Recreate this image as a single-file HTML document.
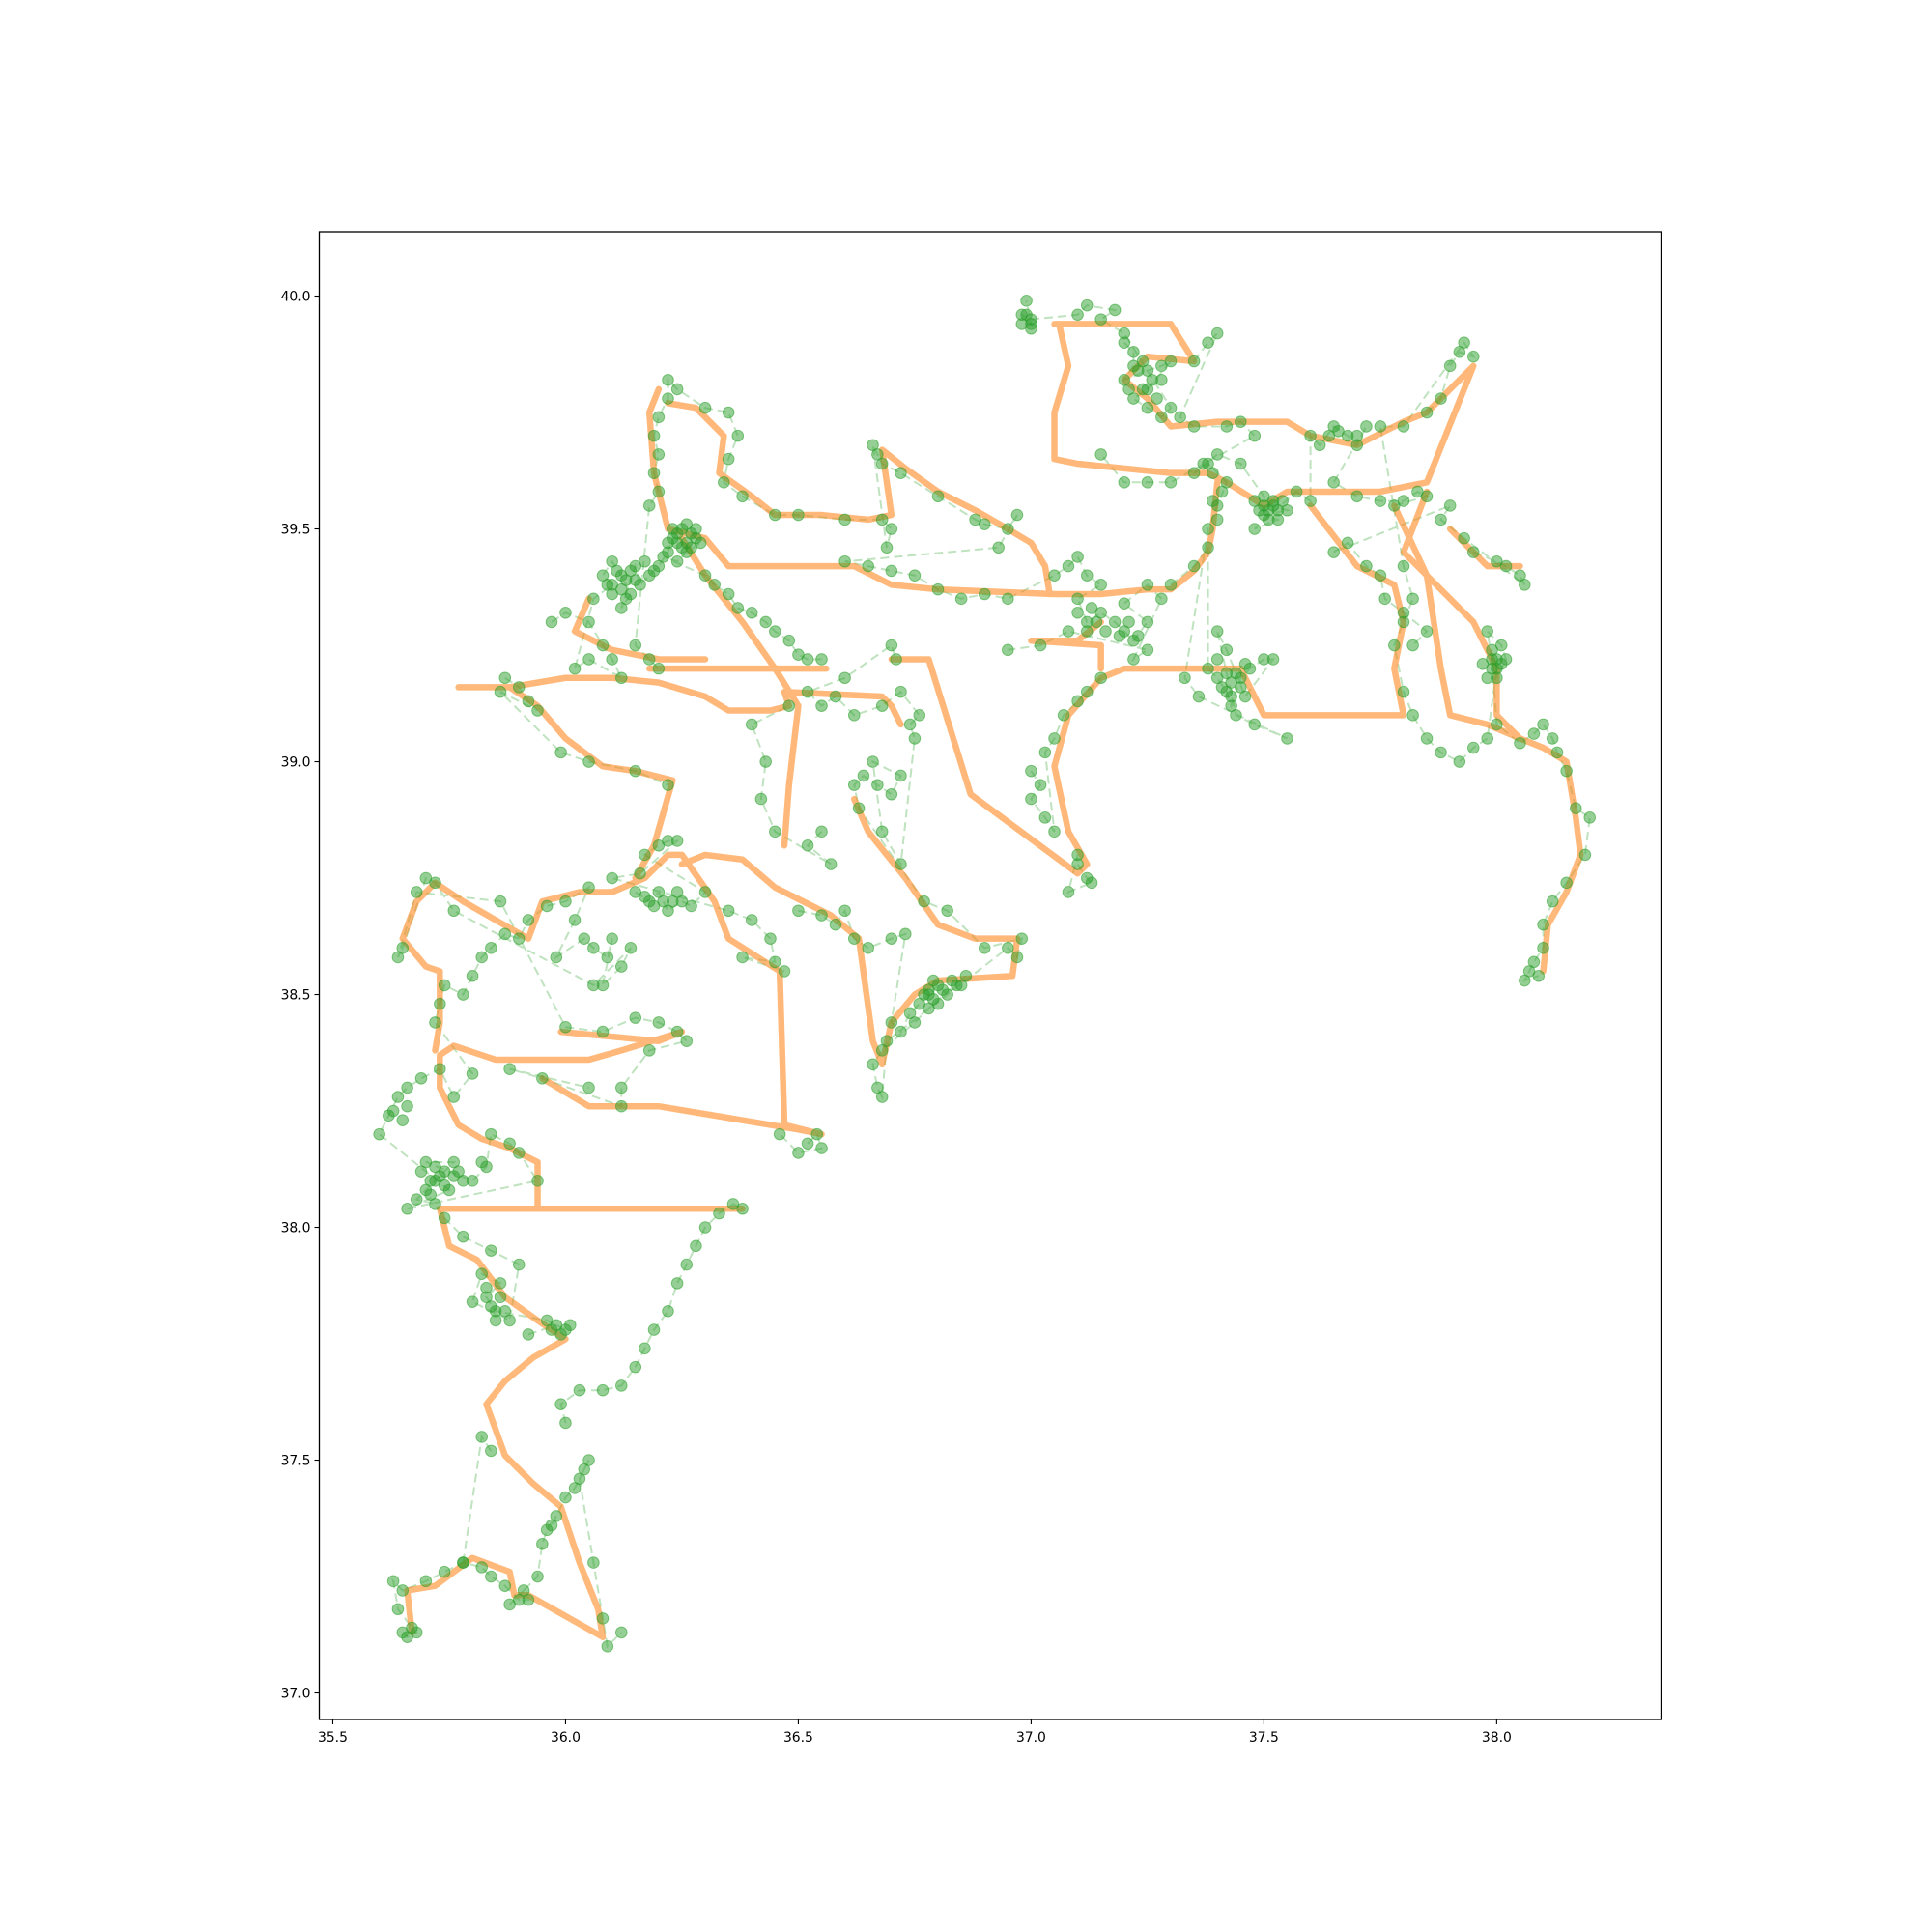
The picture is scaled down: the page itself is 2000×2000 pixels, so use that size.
<!DOCTYPE html>
<html><head><meta charset="utf-8"><title>route</title>
<style>html,body{margin:0;padding:0;background:#fff}svg{display:block}text{font-family:"DejaVu Sans","Liberation Sans",sans-serif}</style></head>
<body>
<svg id="chart" width="2000" height="2000" viewBox="0 0 2000 2000">
<rect width="2000" height="2000" fill="#fff"/>
<g id="dash"></g>
<g id="orange" opacity="0.55"></g>
<g id="pts"></g>
<rect x="330.5" y="240" width="1389" height="1540" fill="none" stroke="#000" stroke-width="1.3"/>
<g id="xt"></g>
<g id="yt"></g>
</svg>
<script>
const xTicks=[35.5,36.0,36.5,37.0,37.5,38.0];
const yTicks=[37.0,37.5,38.0,38.5,39.0,39.5,40.0];
const orangeRoutes=[
[[35.67,37.13],[35.66,37.22],[35.72,37.23],[35.80,37.29],[35.88,37.26],[35.89,37.21],[35.92,37.21],[36.08,37.12],[36.07,37.18],[36.03,37.28],[35.99,37.40],[35.93,37.45],[35.87,37.51],[35.83,37.62],[35.87,37.67],[35.93,37.72],[36.00,37.76],[35.94,37.80],[35.87,37.85],[35.81,37.93],[35.75,37.96],[35.73,38.04],[36.38,38.04],[35.94,38.04],[35.94,38.14],[35.88,38.17],[35.82,38.19],[35.77,38.22],[35.73,38.30],[35.73,38.37],[35.76,38.39],[35.85,38.36],[35.97,38.36],[36.05,38.36],[36.12,38.38],[36.25,38.42],[36.20,38.40],[35.99,38.42]],
[[35.95,38.32],[36.05,38.26],[36.20,38.26],[36.50,38.21],[36.55,38.20],[36.47,38.22],[36.46,38.55],[36.35,38.62],[36.32,38.70],[36.25,38.80],[36.22,38.80],[36.17,38.75],[36.10,38.72],[36.03,38.72],[35.95,38.70],[35.92,38.62],[35.85,38.66],[35.78,38.70],[35.72,38.74],[35.68,38.70],[35.65,38.62],[35.70,38.56],[35.73,38.55],[35.73,38.44],[35.72,38.38]],
[[36.15,38.75],[36.19,38.82],[36.23,38.96],[36.15,38.98],[36.08,38.99],[36.00,39.05],[35.94,39.12],[35.88,39.16],[35.77,39.16],[35.88,39.16],[36.00,39.18],[36.10,39.18],[36.20,39.17],[36.30,39.14],[36.35,39.11],[36.44,39.11],[36.48,39.12],[36.47,39.15],[36.68,39.14],[36.70,39.12],[36.72,39.08]],
[[36.18,39.20],[36.47,39.20],[36.56,39.20]],
[[36.70,39.22],[36.78,39.22],[36.87,38.93],[37.10,38.76],[37.12,38.78],[37.08,38.85],[37.05,38.99],[37.08,39.10],[37.15,39.18],[37.20,39.20],[37.45,39.20]],
[[36.62,38.92],[36.65,38.85],[36.73,38.75],[36.80,38.65],[36.88,38.62],[36.97,38.62],[36.96,38.54],[36.80,38.53],[36.75,38.50],[36.70,38.44],[36.68,38.35],[36.66,38.40],[36.63,38.62],[36.57,38.67],[36.45,38.73],[36.38,38.79],[36.30,38.80],[36.25,38.78]],
[[36.20,39.80],[36.18,39.75],[36.19,39.62],[36.22,39.50],[36.30,39.48],[36.35,39.42],[36.55,39.42],[36.62,39.42],[36.70,39.38],[36.80,39.37],[37.05,39.36],[37.15,39.36],[37.25,39.37],[37.30,39.37],[37.35,39.41],[37.38,39.45],[37.39,39.50],[37.40,39.60]],
[[36.22,39.77],[36.28,39.76],[36.32,39.72],[36.34,39.70],[36.33,39.62],[36.40,39.57],[36.45,39.53],[36.55,39.53],[36.65,39.52],[36.70,39.53],[36.69,39.60],[36.68,39.67],[36.73,39.63],[36.80,39.58],[36.88,39.54],[36.95,39.50],[37.00,39.47],[37.03,39.42],[37.04,39.36]],
[[36.25,39.48],[36.30,39.40],[36.38,39.30],[36.45,39.20],[36.50,39.12],[36.48,38.95],[36.47,38.82]],
[[36.05,39.35],[36.02,39.28],[36.10,39.24],[36.20,39.22],[36.30,39.22]],
[[37.05,39.94],[37.30,39.94],[37.35,39.86],[37.25,39.87],[37.20,39.82],[37.25,39.78],[37.30,39.72],[37.40,39.73],[37.55,39.73],[37.60,39.70],[37.70,39.68],[37.80,39.73],[37.85,39.75],[37.95,39.85],[37.85,39.60],[37.75,39.58],[37.65,39.58],[37.55,39.58],[37.50,39.55],[37.42,39.60],[37.38,39.62],[37.30,39.62],[37.20,39.63],[37.10,39.64],[37.05,39.65],[37.05,39.75],[37.08,39.85],[37.06,39.94]],
[[37.60,39.55],[37.70,39.42],[37.78,39.38],[37.80,39.30],[37.78,39.20],[37.80,39.10],[37.70,39.10],[37.50,39.10],[37.45,39.20]],
[[37.15,39.20],[37.15,39.25],[37.00,39.26],[37.10,39.26],[37.15,39.30]],
[[37.78,39.55],[37.85,39.40],[37.88,39.20],[37.90,39.10],[37.98,39.08],[38.05,39.05],[38.10,39.03],[38.15,39.00],[38.17,38.88],[38.18,38.80],[38.15,38.72],[38.11,38.65],[38.10,38.55]],
[[37.90,39.50],[37.98,39.42],[38.05,39.42]],
[[37.85,39.58],[37.80,39.45],[37.95,39.30],[38.00,39.20],[38.00,39.10],[38.05,39.05]]
];
const greenPts=[
[35.65,37.13],[35.66,37.12],[35.68,37.13],[35.67,37.14],[35.64,37.18],[35.63,37.24],[35.65,37.22],[35.70,37.24],[35.74,37.26],[35.78,37.28],[35.82,37.27],[35.84,37.25],[35.87,37.23],[35.90,37.20],[35.92,37.20],[35.91,37.22],[35.88,37.19],[35.94,37.25],[35.95,37.32],[35.96,37.35],[35.98,37.38],[35.97,37.36],[36.00,37.42],[36.02,37.44],[36.04,37.48],[36.05,37.50],[36.03,37.46],[36.06,37.28],[36.08,37.16],[36.09,37.10],[36.12,37.13],[36.00,37.58],[35.99,37.62],[36.03,37.65],[36.08,37.65],[36.12,37.66],[36.15,37.70],[36.17,37.74],[36.19,37.78],[36.22,37.82],[36.24,37.88],[36.26,37.92],[36.28,37.96],[36.30,38.00],[36.33,38.03],[36.36,38.05],[36.38,38.04],
[35.92,37.77],[35.98,37.79],[36.00,37.78],[35.96,37.80],[35.85,37.82],[35.83,37.85],[35.86,37.88],[35.82,37.90],[35.80,37.84],[35.88,37.80],[35.90,37.92],[35.84,37.95],[35.78,37.98],[35.74,38.02],[35.72,38.05],[35.68,38.06],[35.70,38.08],[35.72,38.10],[35.74,38.12],[35.76,38.14],[35.70,38.14],[35.80,38.10],[35.83,38.13],[35.84,38.20],[35.88,38.18],[35.90,38.16],[35.94,38.10],[35.66,38.04],[35.75,38.08],
[35.60,38.20],[35.62,38.24],[35.64,38.28],[35.66,38.30],[35.69,38.32],[35.73,38.34],[35.76,38.28],[35.80,38.33],[35.72,38.44],[35.73,38.48],[35.74,38.52],[35.78,38.50],[35.80,38.54],[35.82,38.58],[35.84,38.60],[35.87,38.63],[35.90,38.62],[35.92,38.66],[35.96,38.69],[36.00,38.70],[36.05,38.73],[36.02,38.66],[35.98,38.58],[36.04,38.62],[36.06,38.60],[36.09,38.58],[36.10,38.62],[36.08,38.52],[36.12,38.56],[36.14,38.60],[36.06,38.52],[35.76,38.68],[35.72,38.74],[35.70,38.75],[35.65,38.60],[35.64,38.58],[35.68,38.72],[35.86,38.70],
[36.00,38.43],[36.08,38.42],[36.15,38.45],[36.20,38.44],[36.24,38.42],[36.26,38.40],[36.18,38.38],[36.12,38.30],[36.12,38.26],[35.95,38.32],[35.88,38.34],[36.05,38.30],
[36.15,38.72],[36.18,38.70],[36.20,38.72],[36.22,38.68],[36.25,38.70],[36.27,38.69],[36.30,38.72],[36.17,38.80],[36.20,38.82],[36.22,38.83],[36.24,38.83],[36.16,38.76],[36.10,38.75],[36.35,38.68],[36.40,38.66],[36.44,38.62],[36.45,38.57],[36.38,38.58],[36.47,38.55],
[36.52,38.18],[36.54,38.20],[36.55,38.17],[36.50,38.16],[36.46,38.20],
[36.50,38.68],[36.55,38.67],[36.58,38.65],[36.60,38.68],[36.62,38.62],[36.65,38.60],[36.70,38.62],[36.73,38.63],[36.70,38.44],[36.72,38.42],[36.74,38.46],[36.76,38.48],[36.78,38.50],[36.80,38.52],[36.82,38.50],[36.84,38.52],[36.86,38.54],[36.78,38.47],[36.75,38.44],[36.68,38.38],[36.66,38.35],[36.67,38.30],[36.68,38.28],[36.69,38.40],[36.95,38.60],[36.97,38.58],[36.98,38.62],[36.90,38.60],[36.82,38.68],[36.77,38.70],
[36.63,38.90],[36.62,38.95],[36.64,38.97],[36.67,38.95],[36.70,38.93],[36.72,38.97],[36.66,39.00],[36.68,38.85],[36.72,38.78],[36.75,39.05],[36.74,39.08],[36.76,39.10],[36.72,39.15],[36.68,39.12],[36.62,39.10],[36.58,39.14],[36.55,39.12],[36.52,39.15],[36.60,39.18],[36.70,39.25],[36.71,39.22],[36.55,38.85],[36.52,38.82],[36.57,38.78],[36.45,38.85],[36.42,38.92],[36.43,39.00],[36.40,39.08],[36.48,39.12],
[37.00,38.98],[37.02,38.95],[37.00,38.92],[37.03,38.88],[37.05,38.85],[37.03,39.02],[37.05,39.05],[37.07,39.10],[37.10,39.13],[37.12,39.15],[37.15,39.18],[37.10,38.78],[37.12,38.75],[37.13,38.74],[37.08,38.72],[37.10,38.80],
[35.87,39.18],[35.90,39.16],[35.92,39.13],[35.94,39.11],[35.86,39.15],[35.99,39.02],[36.05,39.00],[36.15,38.98],[36.22,38.95],[35.97,39.30],[36.00,39.32],[36.05,39.30],[36.08,39.25],[36.10,39.22],[36.12,39.18],[36.05,39.22],[36.02,39.20],[36.06,39.35],[36.10,39.38],[36.08,39.40],[36.10,39.43],[36.12,39.40],[36.14,39.36],[36.12,39.33],[36.15,39.42],[36.16,39.38],[36.18,39.40],[36.20,39.42],[36.22,39.45],[36.23,39.48],[36.25,39.50],[36.27,39.49],[36.29,39.47],[36.26,39.45],[36.24,39.43],[36.21,39.44],[36.30,39.40],[36.32,39.38],[36.35,39.36],[36.37,39.33],[36.40,39.32],[36.43,39.30],[36.45,39.28],[36.48,39.26],[36.50,39.23],[36.52,39.22],[36.55,39.22],[36.18,39.22],[36.20,39.20],[36.15,39.25],
[36.18,39.55],[36.20,39.58],[36.19,39.62],[36.20,39.66],[36.19,39.70],[36.20,39.74],[36.22,39.78],[36.22,39.82],[36.24,39.80],[36.30,39.76],[36.35,39.75],[36.37,39.70],[36.35,39.65],[36.34,39.60],[36.38,39.57],[36.45,39.53],[36.50,39.53],[36.60,39.52],[36.68,39.52],[36.70,39.50],[36.69,39.46],[36.66,39.68],[36.67,39.66],[36.68,39.64],[36.72,39.62],[36.80,39.57],[36.88,39.52],[36.90,39.51],[36.95,39.50],[36.97,39.53],[36.93,39.46],
[36.60,39.43],[36.65,39.42],[36.70,39.41],[36.75,39.40],[36.80,39.37],[36.85,39.35],[36.90,39.36],[36.95,39.35],[37.05,39.40],[37.08,39.42],[37.10,39.44],[37.12,39.40],[37.15,39.38],[37.10,39.35],[37.12,39.30],[37.15,39.32],[37.18,39.30],[37.20,39.28],[37.22,39.26],[37.25,39.30],[37.20,39.34],[37.25,39.38],[37.28,39.35],[37.22,39.22],[37.25,39.24],[37.08,39.28],[37.02,39.25],[36.95,39.24],[37.30,39.38],[37.35,39.42],[37.38,39.46],
[37.38,39.20],[37.40,39.18],[37.42,39.15],[37.43,39.12],[37.45,39.18],[37.47,39.20],[37.50,39.22],[37.52,39.22],[37.46,39.14],[37.42,39.24],[37.40,39.28],[37.44,39.10],[37.48,39.08],[37.55,39.05],[37.36,39.14],[37.33,39.18],
[37.38,39.50],[37.40,39.55],[37.42,39.60],[37.38,39.64],[37.35,39.62],[37.40,39.66],[37.45,39.64],[37.50,39.57],[37.52,39.55],[37.55,39.54],[37.50,39.53],[37.53,39.52],[37.48,39.50],[37.57,39.58],[37.60,39.56],[37.60,39.70],[37.62,39.68],[37.65,39.72],[37.68,39.70],[37.70,39.68],[37.72,39.72],[37.65,39.60],[37.70,39.57],[37.75,39.56],[37.80,39.56],[37.83,39.58],[37.85,39.57],[37.78,39.55],
[37.20,39.90],[37.22,39.88],[37.22,39.85],[37.20,39.82],[37.25,39.84],[37.28,39.85],[37.30,39.86],[37.25,39.80],[37.22,39.78],[37.25,39.76],[37.28,39.74],[37.30,39.76],[37.20,39.92],[37.15,39.95],[37.18,39.97],[37.12,39.98],[37.10,39.96],[37.00,39.95],[36.98,39.96],[37.00,39.94],[36.99,39.99],[37.35,39.86],[37.38,39.90],[37.40,39.92],[37.32,39.74],[37.35,39.72],[37.42,39.72],[37.45,39.73],[37.48,39.70],[37.30,39.60],[37.25,39.60],[37.20,39.60],[37.15,39.66],
[37.85,39.75],[37.88,39.78],[37.90,39.85],[37.92,39.88],[37.95,39.87],[37.93,39.90],[37.80,39.72],[37.75,39.72],
[37.80,39.42],[37.82,39.35],[37.80,39.30],[37.78,39.25],[37.80,39.15],[37.82,39.10],[37.85,39.05],[37.88,39.02],[37.92,39.00],[37.95,39.03],[37.98,39.05],[38.00,39.20],[38.00,39.18],[38.02,39.22],[38.01,39.25],[37.98,39.28],[37.99,39.22],[38.00,39.08],[38.05,39.04],[38.08,39.06],[38.10,39.08],[38.12,39.05],[38.13,39.02],[38.15,38.98],[38.17,38.90],[38.20,38.88],[38.19,38.80],[38.15,38.74],[38.12,38.70],[38.10,38.65],[38.10,38.60],[38.08,38.57],[38.07,38.55],[38.06,38.53],[38.09,38.54],[37.95,39.45],[38.00,39.43],[38.02,39.42],[38.05,39.40],[38.06,39.38],[37.93,39.48],[37.88,39.52],[37.90,39.55],
[37.65,39.45],[37.68,39.47],[37.72,39.42],[37.75,39.40],[37.76,39.35],[37.80,39.32],[37.85,39.28],[37.82,39.25],
[35.84,37.52],[35.82,37.55],[35.78,37.28]
];
const clusterPts=[
[36.24,39.47],[36.26,39.47],[36.28,39.48],[36.28,39.50],[36.26,39.51],[36.24,39.49],[36.22,39.47],[36.25,39.46],[36.27,39.46],[36.23,39.50],
[36.12,39.37],[36.13,39.39],[36.11,39.41],[36.14,39.41],[36.10,39.36],[36.15,39.39],[36.17,39.43],[36.19,39.41],[36.09,39.38],[36.13,39.35],
[35.71,38.10],[35.73,38.11],[35.74,38.09],[35.72,38.13],[35.69,38.12],[35.71,38.07],[35.77,38.12],[35.78,38.10],[35.82,38.14],[35.76,38.11],
[35.84,37.83],[35.86,37.85],[35.85,37.80],[35.87,37.82],[35.83,37.87],[35.99,37.77],[35.97,37.78],[36.01,37.79],
[36.78,38.51],[36.79,38.49],[36.81,38.51],[36.80,38.48],[36.77,38.50],[36.83,38.53],[36.85,38.52],[36.79,38.53],
[37.50,39.55],[37.51,39.54],[37.52,39.56],[37.53,39.54],[37.49,39.54],[37.54,39.56],[37.51,39.52],[37.48,39.56],
[37.43,39.17],[37.44,39.19],[37.42,39.19],[37.45,39.16],[37.41,39.16],[37.46,39.21],[37.40,39.22],[37.43,39.14],
[37.24,39.80],[37.26,39.82],[37.23,39.84],[37.27,39.78],[37.21,39.80],[37.24,39.86],[37.28,39.82],
[37.99,39.20],[37.98,39.18],[38.01,39.21],[37.99,39.24],[38.00,39.22],[37.97,39.21],
[37.12,39.28],[37.14,39.30],[37.16,39.28],[37.19,39.27],[37.21,39.30],[37.23,39.27],[37.13,39.33],[37.10,39.32],
[36.23,38.70],[36.24,38.72],[36.21,38.70],[36.19,38.69],[36.17,38.71],
[36.99,39.96],[37.00,39.93],[36.98,39.94],
[35.66,38.26],[35.63,38.25],[35.65,38.23],
[37.37,39.64],[37.39,39.62],[37.41,39.58],[37.39,39.56],[37.40,39.52],
[37.66,39.71],[37.64,39.70],[37.70,39.70]
];
const xMin=35.471,xMax=38.353,yMin=36.943,yMax=40.138;
const L=330.5,R=1719.5,T=240,B=1780;
function X(v){return L+(v-xMin)/(xMax-xMin)*(R-L);}
function Y(v){return B-(v-yMin)/(yMax-yMin)*(B-T);}
const NS='http://www.w3.org/2000/svg';
function mk(t,a){const e=document.createElementNS(NS,t);for(const k in a)e.setAttribute(k,a[k]);return e;}
const dash=document.getElementById('dash');
let d='';
greenPts.forEach((p,i)=>{
 const prev=greenPts[i-1];
 const jump=!prev||Math.hypot(p[0]-prev[0],p[1]-prev[1])>0.35;
 d+=(jump?'M':'L')+X(p[0]).toFixed(1)+','+Y(p[1]).toFixed(1);
});
const dp=mk('path',{d:d,fill:'none',stroke:'#2ca02c','stroke-opacity':'0.3','stroke-width':'2','stroke-dasharray':'9,5'});


dash.appendChild(dp);
const og=document.getElementById('orange');
orangeRoutes.forEach((r,i)=>{
 const pl=mk('polyline',{points:r.map(p=>X(p[0])+','+Y(p[1])).join(' '),fill:'none',stroke:'#ff7f0e','stroke-width':'6.5','stroke-linejoin':'round','stroke-linecap':'round'});
 
 
 og.appendChild(pl);
});
const pg=document.getElementById('pts');
greenPts.concat(clusterPts).forEach(p=>{
 const c=mk('circle',{cx:X(p[0]),cy:Y(p[1]),r:5.8,fill:'#2ca02c','fill-opacity':'0.5',stroke:'#2ca02c','stroke-opacity':'0.55','stroke-width':'1'});
 
 
 pg.appendChild(c);
});
const xt=document.getElementById('xt');
xTicks.forEach(v=>{
 const x=X(v);
 const ln=mk('line',{x1:x,x2:x,y1:B,y2:B+5,stroke:'#000','stroke-width':'1.1'});
 
 
 xt.appendChild(ln);
 const t=mk('text',{x:x,y:B+23,'font-size':'13.9','text-anchor':'middle',fill:'#000'});
 t.textContent=v.toFixed(1);
 
 
 xt.appendChild(t);
});
const yt=document.getElementById('yt');
yTicks.forEach(v=>{
 const y=Y(v);
 const ln=mk('line',{x1:L-5,x2:L,y1:y,y2:y,stroke:'#000','stroke-width':'1.1'});
 
 
 yt.appendChild(ln);
 const t=mk('text',{x:L-9,y:y+5,'font-size':'13.9','text-anchor':'end',fill:'#000'});
 t.textContent=v.toFixed(1);
 
 
 yt.appendChild(t);
});
</script>
</body></html>
